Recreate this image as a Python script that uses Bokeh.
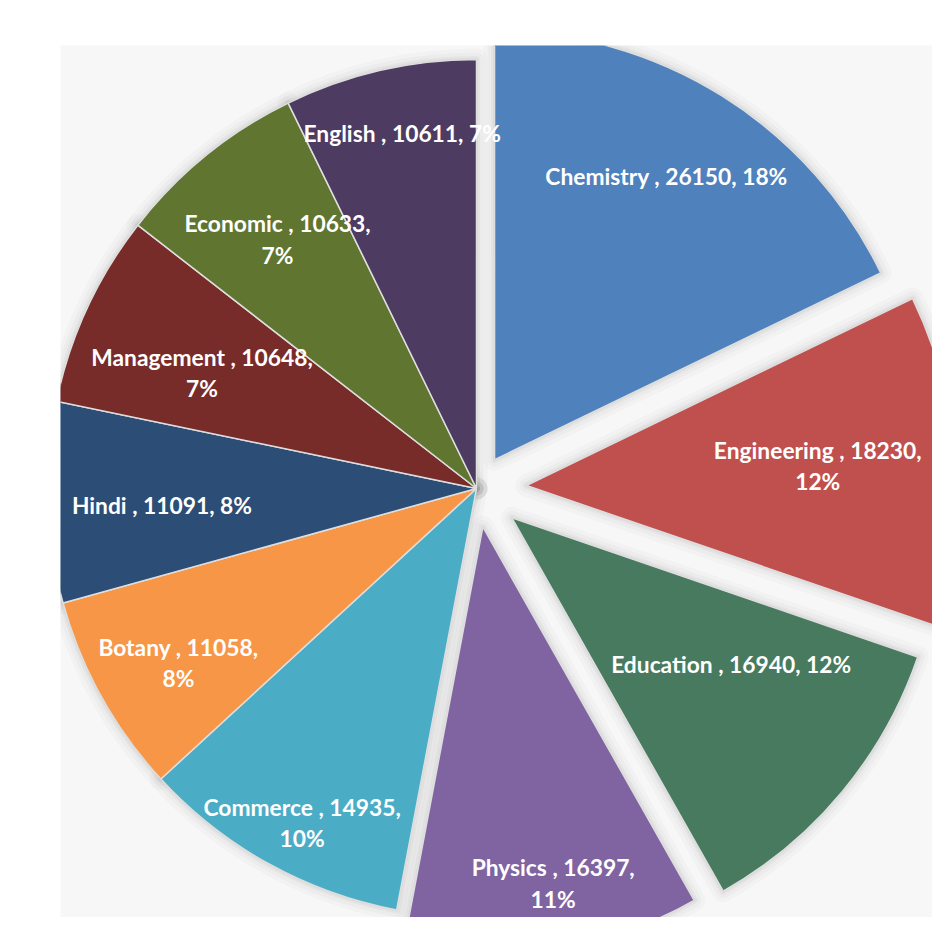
import numpy as np
from bokeh.plotting import figure
from bokeh.models import Range1d, ColumnDataSource
from bokeh.embed import file_html
from bokeh.resources import INLINE
from bokeh.core.properties import value

# ---- data ----
categories = ["Chemistry", "Engineering", "Education", "Physics", "Commerce",
              "Botany", "Hindi", "Management", "Economic", "English"]
values = [26150, 18230, 16940, 16397, 14935, 11058, 11091, 10648, 10633, 10611]
percents = [18, 12, 12, 11, 10, 8, 8, 7, 7, 7]

# ---- styling ----
colors = ["#4F81BD", "#C0504D", "#477A5E", "#8064A2", "#4BACC6",
          "#F79646", "#2C4D75", "#772C2A", "#5F7530", "#4D3B62"]
explode = [34, 50, 46, 39, 0, 0, 0, 0, 0, 0]          # px offset of exploded slices
label_r = [366, 342, 309, 402, 377, 345, 315, 298, 319, 363]
label_dang = [-0.8, -0.4, -5.2, -1.6, -1.5, -1.2, -1.1, -1.9, 0.5, 1.2]
wrap = [False, True, False, True, True, True, False, True, True, False]
R = 429

vals = np.array(values, dtype=float)
frac = vals / vals.sum()
cum = np.concatenate([[0.0], np.cumsum(frac)]) * 360.0   # clockwise from 12 o'clock
start_cw, end_cw = cum[:-1], cum[1:]
mid_cw = (start_cw + end_cw) / 2.0

start_math = np.radians(90.0 - end_cw)
end_math = np.radians(90.0 - start_cw)
mid_math = np.radians(90.0 - mid_cw)
ex = np.array(explode, dtype=float)
cx = ex * np.cos(mid_math)
cy = ex * np.sin(mid_math)

lab_ang = np.radians(90.0 - (mid_cw + np.array(label_dang)))
lx = np.array(label_r) * np.cos(lab_ang)
ly = np.array(label_r) * np.sin(lab_ang)
labels = []
for c, v, pc, w in zip(categories, values, percents, wrap):
    sep = ",\n" if w else ", "
    labels.append(f"{c} , {v}{sep}{pc}%")

src = ColumnDataSource(dict(cx=cx, cy=cy, start=start_math, end=end_math,
                            color=colors, lx=lx, ly=ly, label=labels))

p = figure(width=932, height=917,
           x_range=Range1d(-416, 456), y_range=Range1d(-429, 443),
           x_axis_type=None, y_axis_type=None,
           output_backend="svg", toolbar_location=None,
           min_border_left=60, min_border_top=45,
           min_border_right=0, min_border_bottom=0)
p.grid.visible = False
p.outline_line_color = None
p.background_fill_color = "#f7f7f7"
p.border_fill_color = "white"

# soft shadow around slices
for lw, la in [(22, 0.03), (14, 0.045), (7, 0.06), (3, 0.08)]:
    p.wedge(x="cx", y="cy", radius=R, start_angle="start", end_angle="end",
            direction="anticlock", source=src, fill_color=None,
            line_color="#6e6e6e", line_alpha=la, line_width=lw,
            line_join="round")

p.wedge(x="cx", y="cy", radius=R, start_angle="start", end_angle="end",
        direction="anticlock", source=src, fill_color="color",
        line_color="#dedede", line_width=1.5)

p.text(x="lx", y="ly", text="label", source=src, text_color="white",
       text_font=value("Lato"), text_font_style="bold", text_font_size="22.8px",
       text_align="center", text_baseline="middle", text_line_height=1.12)

open("out.html", "w").write(file_html(p, INLINE))
